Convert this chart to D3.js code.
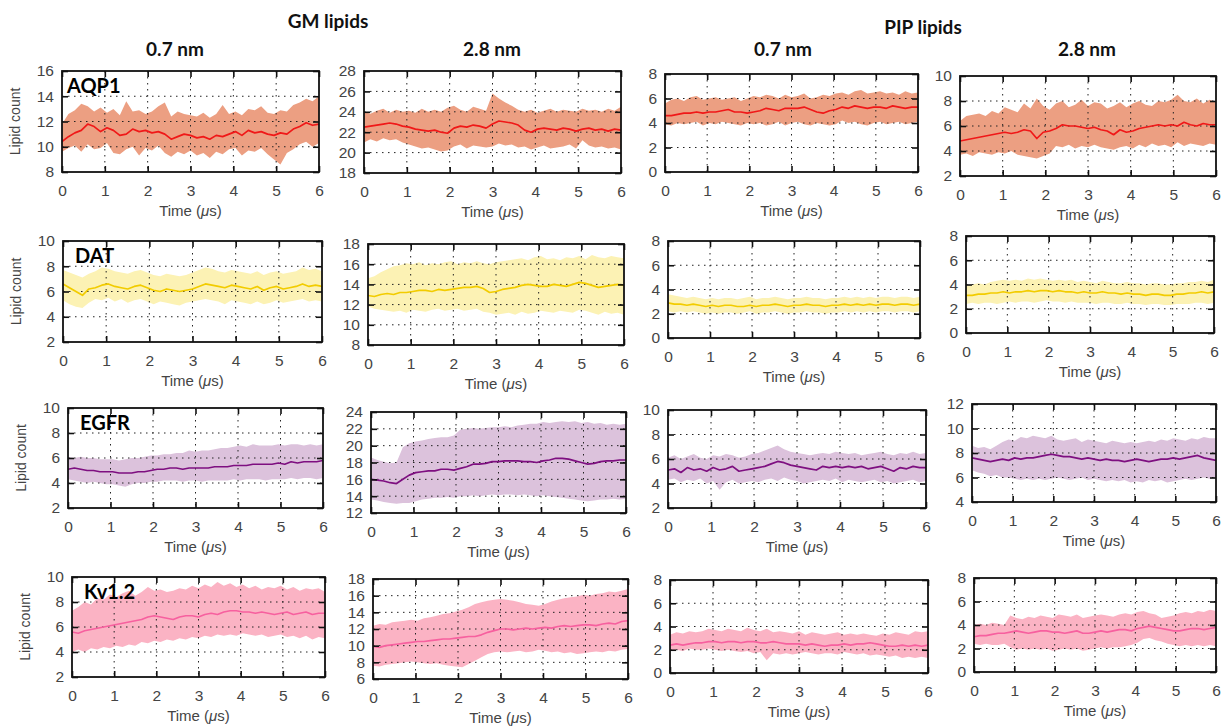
<!DOCTYPE html>
<html>
<head>
<meta charset="utf-8">
<script src="https://cdn.jsdelivr.net/npm/d3@7"></script>
<style>
  body { margin: 0; background: #fff; }
  svg { display: block; font-family: "Liberation Sans", Arial, sans-serif; }
</style>
</head>
<body>
<svg id="chart" width="1227" height="727"></svg>
<script>
// time points (µs)
const time = [0,0.15,0.3,0.45,0.6,0.75,0.9,1.05,1.2,1.35,1.5,1.65,1.8,1.95,2.1,2.25,2.4,2.55,2.7,2.85,3.0,
  3.15,3.3,3.45,3.6,3.75,3.9,4.05,4.2,4.35,4.5,4.65,4.8,4.95,5.1,5.25,5.4,5.55,5.7,5.85,6.0];

const proteins = ['AQP1', 'DAT', 'EGFR', 'Kv1.2'];
const colTitles = ['0.7 nm', '2.8 nm', '0.7 nm', '2.8 nm'];
const groupTitles = ['GM lipids', 'PIP lipids'];
const xTicks = [0, 1, 2, 3, 4, 5, 6];

// y ranges per row (protein) and column (lipid / cutoff)
const yRanges = [
  [[8, 16], [18, 28], [0, 8], [2, 10]],
  [[2, 10], [8, 18], [0, 8], [0, 8]],
  [[2, 10], [12, 24], [2, 10], [4, 12]],
  [[2, 10], [6, 18], [0, 8], [0, 8]]
];

// ---- AQP1 ----
const aqp1Gm07Mean = [10.4,10.8,11.1,11.3,11.8,11.6,11.2,11.5,11.3,10.9,11.0,11.4,11.2,11.3,11.1,11.2,11.0,10.6,10.8,11.0,10.9,10.7,10.8,10.6,10.9,10.8,11.0,11.2,10.9,11.3,11.1,11.2,11.0,10.9,11.1,11.0,11.4,11.6,11.9,11.7,11.8];
const aqp1Gm07Lo = [9.6,9.9,10.1,9.6,10.2,9.8,9.9,10.3,9.5,9.4,9.8,10.0,9.3,9.9,9.7,10.1,9.5,9.2,9.6,9.4,9.7,9.3,9.5,9.1,9.6,9.4,9.8,9.9,9.3,9.7,9.6,9.9,9.4,9.0,8.6,9.5,9.8,10.2,10.4,10.0,10.3];
const aqp1Gm07Hi = [11.8,12.6,12.9,13.4,13.2,12.8,13.1,12.7,13.0,12.5,13.6,12.8,12.9,12.6,12.8,13.2,13.5,12.4,12.8,12.6,12.5,12.4,12.7,12.3,12.6,13.3,12.6,12.8,12.5,13.0,12.9,13.2,12.7,12.6,12.9,12.8,13.3,13.5,13.8,13.6,14.0];

const aqp1Gm28Mean = [22.5,22.6,22.7,22.8,22.9,22.8,22.6,22.5,22.3,22.2,22.1,22.2,22.0,21.9,22.4,22.6,22.5,22.7,22.6,22.4,22.8,23.1,23.0,22.9,22.7,22.2,22.0,22.3,22.4,22.3,22.2,22.4,22.3,22.1,22.3,22.4,22.2,22.3,22.1,22.3,22.2];
const aqp1Gm28Lo = [21.0,21.3,21.1,21.4,21.2,21.3,21.0,20.8,20.6,20.4,20.5,20.3,20.1,20.2,20.6,20.8,20.4,20.7,20.6,20.5,20.6,20.9,20.7,20.8,20.5,20.6,20.3,20.5,20.7,20.4,20.5,20.6,20.8,20.4,21.2,20.7,20.5,20.6,20.4,20.5,20.3];
const aqp1Gm28Hi = [24.0,23.8,24.1,24.3,23.9,24.2,24.0,24.1,23.9,24.3,24.0,24.2,24.0,24.4,24.6,24.2,24.0,24.5,24.3,24.1,25.8,25.3,24.9,24.6,24.2,24.0,24.2,23.9,24.1,24.3,24.0,24.2,24.1,24.0,24.3,24.1,24.2,24.0,24.3,24.1,24.5];

const aqp1Pip07Mean = [4.6,4.6,4.7,4.8,4.8,4.9,4.8,4.9,4.9,5.0,5.1,4.9,4.9,4.8,4.9,5.0,5.2,5.1,5.0,5.2,5.2,5.2,5.3,5.1,4.9,4.8,5.0,5.1,5.3,5.2,5.4,5.3,5.2,5.3,5.3,5.2,5.4,5.3,5.2,5.3,5.3];
const aqp1Pip07Lo = [3.9,3.8,4.0,3.9,4.0,4.1,3.8,4.0,3.9,4.1,4.0,3.9,3.8,4.0,3.9,4.0,3.8,3.9,4.1,3.8,4.0,4.1,3.9,3.8,4.0,3.9,3.8,3.9,4.2,4.0,4.1,3.9,3.8,4.0,4.1,3.9,4.0,4.1,3.9,4.0,4.1];
const aqp1Pip07Hi = [5.6,5.9,6.0,5.8,6.1,6.2,5.9,6.0,6.1,5.9,6.0,6.1,5.8,6.0,6.2,6.1,6.3,6.2,6.0,6.3,6.1,6.2,6.4,6.0,6.1,6.3,6.2,6.4,6.5,6.3,6.6,6.7,6.4,6.5,6.6,6.4,6.5,6.3,6.6,6.4,6.5];

const aqp1Pip28Mean = [4.8,4.9,5.0,5.1,5.2,5.3,5.4,5.5,5.4,5.5,5.7,5.6,5.0,5.5,5.6,5.8,6.1,6.0,6.0,5.9,5.8,5.9,5.7,5.6,5.3,5.7,5.5,5.6,5.8,5.9,6.0,6.1,6.0,6.1,6.0,6.3,6.1,6.0,6.2,6.1,6.1];
const aqp1Pip28Lo = [3.7,3.8,3.6,3.9,3.8,3.7,3.9,3.8,4.0,3.7,3.6,3.5,3.4,3.6,3.8,4.4,4.3,4.5,4.2,4.4,4.3,4.5,4.3,4.2,4.1,4.3,4.4,4.2,4.5,4.3,4.6,4.4,4.5,4.3,4.7,4.4,4.6,4.5,4.4,4.6,4.5];
const aqp1Pip28Hi = [6.4,6.8,6.9,7.0,6.8,7.2,7.0,7.5,7.3,7.1,7.8,7.4,8.2,7.6,7.3,7.8,8.0,7.5,7.7,8.1,7.6,7.9,7.8,7.4,7.6,7.9,7.5,7.8,8.0,7.7,7.6,8.0,7.9,8.1,8.5,8.0,7.9,8.2,7.8,8.1,7.9];

// ---- DAT ----
const datGm07Mean = [6.6,6.3,6.0,5.7,6.2,6.3,6.5,6.6,6.4,6.3,6.2,6.4,6.5,6.3,6.1,6.0,6.2,6.1,6.0,6.1,6.2,6.4,6.6,6.5,6.4,6.3,6.5,6.4,6.3,6.2,6.4,6.1,6.3,6.4,6.2,6.3,6.4,6.6,6.4,6.5,6.4];
const datGm07Lo = [5.3,5.0,4.8,4.7,5.1,5.4,5.3,5.5,5.2,5.4,5.1,5.3,5.4,5.2,5.0,5.2,5.1,5.0,4.9,5.1,5.2,5.3,5.4,5.3,5.2,5.0,5.3,5.2,5.1,5.0,5.2,5.0,5.1,5.3,5.1,5.2,5.3,5.4,5.2,5.3,5.2];
const datGm07Hi = [7.7,7.5,7.3,7.1,7.4,7.6,7.9,7.8,7.6,7.5,7.4,7.6,7.7,7.5,7.3,7.2,7.4,7.3,7.2,7.3,7.5,7.7,7.9,7.8,7.6,7.5,7.7,7.6,7.5,7.4,7.6,7.3,7.5,7.6,7.4,7.5,7.6,7.9,7.7,7.8,7.6];

const datGm28Mean = [12.9,12.8,13.0,13.1,13.0,13.2,13.2,13.3,13.4,13.4,13.3,13.5,13.4,13.5,13.6,13.7,13.7,13.8,13.6,13.2,13.3,13.5,13.6,13.7,13.9,14.0,13.9,13.8,13.8,14.0,13.9,13.8,14.0,14.2,14.1,13.9,13.7,13.8,13.9,14.0,13.9];
const datGm28Lo = [11.8,11.6,11.5,11.4,11.3,11.4,11.2,11.5,11.4,11.3,11.5,11.6,11.4,11.5,11.6,11.4,11.5,11.6,11.3,11.2,11.0,11.1,11.2,11.0,11.3,11.1,11.2,11.4,11.3,11.2,11.4,11.3,11.2,11.5,11.4,11.2,11.0,11.3,11.1,11.2,11.0];
const datGm28Hi = [14.6,14.8,15.2,15.5,15.8,15.9,16.1,16.0,16.2,15.9,16.1,16.0,16.2,16.3,16.0,16.2,16.1,16.3,16.1,16.0,16.2,16.3,16.4,16.5,16.6,16.4,16.7,16.8,16.5,16.6,16.4,16.7,16.6,16.8,16.5,16.9,16.7,16.6,16.8,16.7,16.6];

const datPip07Mean = [2.9,2.8,2.8,2.7,2.8,2.7,2.6,2.7,2.6,2.7,2.7,2.6,2.6,2.7,2.6,2.7,2.7,2.8,2.7,2.6,2.7,2.7,2.8,2.7,2.7,2.6,2.7,2.7,2.8,2.7,2.8,2.7,2.8,2.7,2.8,2.8,2.7,2.8,2.8,2.7,2.8];
const datPip07Lo = [2.2,2.1,2.2,2.1,2.2,2.1,2.0,2.1,2.0,2.1,2.1,2.0,2.1,2.2,2.0,2.1,2.1,2.2,2.1,2.0,2.1,2.1,2.2,2.1,2.1,2.0,2.1,2.1,2.2,2.1,2.2,2.1,2.2,2.1,2.2,2.2,2.1,2.2,2.2,2.1,2.2];
const datPip07Hi = [3.6,3.5,3.4,3.3,3.4,3.3,3.2,3.3,3.2,3.3,3.3,3.2,3.3,3.4,3.2,3.3,3.3,3.4,3.3,3.2,3.3,3.3,3.4,3.3,3.3,3.2,3.3,3.3,3.4,3.3,3.4,3.3,3.4,3.3,3.4,3.4,3.3,3.4,3.4,3.3,3.4];

const datPip28Mean = [3.1,3.1,3.2,3.2,3.3,3.3,3.4,3.3,3.4,3.4,3.5,3.4,3.5,3.5,3.4,3.5,3.4,3.4,3.3,3.4,3.3,3.3,3.4,3.3,3.3,3.2,3.3,3.2,3.2,3.1,3.2,3.2,3.1,3.1,3.2,3.2,3.3,3.3,3.4,3.3,3.4];
const datPip28Lo = [2.4,2.5,2.4,2.5,2.5,2.4,2.5,2.6,2.5,2.6,2.6,2.5,2.6,2.7,2.6,2.6,2.5,2.6,2.5,2.5,2.5,2.4,2.5,2.5,2.4,2.4,2.5,2.4,2.4,2.3,2.4,2.4,2.3,2.3,2.4,2.4,2.4,2.5,2.5,2.4,2.5];
const datPip28Hi = [3.9,4.0,4.1,4.0,4.2,4.3,4.4,4.3,4.4,4.3,4.5,4.4,4.5,4.4,4.3,4.4,4.3,4.4,4.2,4.3,4.2,4.1,4.3,4.2,4.1,4.1,4.2,4.1,4.1,4.0,4.1,4.1,4.0,4.0,4.1,4.1,4.2,4.2,4.3,4.2,4.4];

// ---- EGFR ----
const egfrGm07Mean = [5.1,5.2,5.1,5.0,5.0,4.9,4.9,4.9,4.8,4.8,4.8,4.9,4.9,5.0,5.1,5.1,5.2,5.2,5.1,5.2,5.2,5.2,5.2,5.3,5.3,5.3,5.4,5.4,5.4,5.5,5.5,5.5,5.5,5.6,5.5,5.7,5.6,5.7,5.7,5.7,5.8];
const egfrGm07Lo = [4.3,4.2,4.1,4.0,4.1,4.0,3.9,3.9,3.8,3.7,3.9,4.0,4.0,4.1,4.1,4.2,4.2,4.2,4.1,4.2,4.2,4.1,4.2,4.2,4.2,4.2,4.3,4.2,4.3,4.3,4.3,4.2,4.3,4.3,4.3,4.4,4.3,4.4,4.4,4.3,4.4];
const egfrGm07Hi = [6.1,6.0,6.1,6.0,6.0,5.9,5.9,5.9,5.8,5.9,6.0,6.0,6.1,6.2,6.2,6.3,6.3,6.4,6.4,6.6,6.5,6.6,6.6,6.7,6.8,6.8,6.9,7.0,6.9,7.1,7.0,7.0,7.0,7.1,7.0,7.1,7.1,7.0,7.1,7.0,7.1];

const egfrGm28Mean = [16.0,15.9,15.8,15.6,15.5,16.0,16.5,16.8,16.9,17.0,17.0,17.2,17.2,17.1,17.3,17.5,17.8,17.8,17.9,18.1,18.1,18.2,18.2,18.2,18.1,18.1,18.0,18.2,18.3,18.5,18.5,18.4,18.2,18.0,17.8,17.9,18.1,18.2,18.2,18.3,18.3];
const egfrGm28Lo = [13.6,13.5,13.3,13.2,13.1,13.2,13.2,13.4,13.6,13.7,13.8,13.8,13.9,13.8,14.0,14.0,14.1,14.0,14.1,14.2,14.1,14.2,14.2,14.1,14.2,14.1,14.0,14.1,14.0,13.9,13.8,13.7,13.6,13.5,13.4,13.5,13.6,13.6,13.7,13.6,13.7];
const egfrGm28Hi = [18.6,18.3,18.1,17.9,18.0,19.8,20.3,20.5,20.6,20.8,20.9,21.0,21.0,21.2,21.9,22.0,22.1,22.0,22.1,22.2,22.2,22.3,22.2,22.4,22.5,22.6,22.6,22.8,22.7,22.8,22.9,22.8,22.9,22.7,22.8,22.6,22.7,22.5,22.6,22.5,22.6];

const egfrPip07Mean = [5.1,5.2,4.9,5.3,5.1,5.2,5.0,5.3,5.1,5.2,5.4,5.0,5.1,5.2,5.3,5.4,5.6,5.8,5.7,5.5,5.4,5.3,5.2,5.1,5.4,5.3,5.4,5.3,5.4,5.3,5.4,5.2,5.3,5.4,5.2,5.0,5.3,5.2,5.4,5.3,5.3];
const egfrPip07Lo = [4.3,4.4,4.1,4.3,4.2,4.4,4.0,4.2,3.5,4.1,4.3,4.0,4.1,4.2,4.1,4.3,4.4,4.2,4.5,4.3,4.2,4.0,4.1,4.2,4.3,4.2,4.4,4.1,4.3,4.2,4.1,4.2,4.3,4.1,4.2,4.0,4.1,4.2,4.3,4.1,4.2];
const egfrPip07Hi = [6.1,6.3,6.0,6.2,6.4,6.1,6.0,6.3,6.2,6.4,6.3,6.1,6.2,6.4,6.5,6.7,6.9,7.1,6.8,6.6,6.5,6.4,6.3,6.4,6.5,6.4,6.6,6.5,6.4,6.5,6.3,6.4,6.5,6.6,6.4,6.3,6.5,6.4,6.6,6.4,6.5];

const egfrPip28Mean = [7.6,7.5,7.4,7.3,7.4,7.5,7.4,7.6,7.5,7.6,7.6,7.7,7.8,7.9,7.8,7.7,7.7,7.6,7.5,7.6,7.5,7.4,7.5,7.4,7.4,7.3,7.4,7.5,7.4,7.3,7.4,7.5,7.5,7.6,7.5,7.6,7.7,7.8,7.6,7.5,7.4];
const egfrPip28Lo = [6.6,6.4,6.3,6.1,6.2,6.0,6.0,5.9,5.8,5.9,5.8,5.9,5.8,5.9,6.0,5.9,5.8,5.9,6.0,5.8,5.9,5.8,5.7,5.8,5.7,5.8,5.6,5.7,5.6,5.8,5.7,5.8,5.6,5.7,5.8,5.9,5.8,5.9,6.0,5.9,6.0];
const egfrPip28Hi = [8.6,8.4,8.5,8.3,8.6,8.9,9.1,9.0,9.3,9.2,9.4,9.3,9.2,9.4,9.1,9.0,9.1,9.2,8.9,9.1,9.0,8.9,8.8,9.0,8.9,8.8,8.9,8.8,8.9,9.0,8.9,9.1,9.0,9.2,9.1,9.0,9.2,9.1,9.3,9.2,9.2];

// ---- Kv1.2 ----
const kvGm07Mean = [5.6,5.5,5.7,5.8,5.9,6.0,6.1,6.2,6.3,6.4,6.5,6.6,6.8,6.9,6.8,6.7,6.6,6.8,6.9,6.9,6.8,7.0,7.1,7.0,7.2,7.3,7.3,7.2,7.2,7.1,7.2,7.1,7.0,7.1,7.2,7.0,7.1,7.2,7.0,7.1,7.1];
const kvGm07Lo = [4.0,4.2,4.0,4.3,4.2,4.4,4.3,4.5,4.4,4.6,4.5,4.8,4.7,4.9,4.8,5.0,4.9,5.1,5.0,5.2,5.1,5.3,5.2,5.4,5.3,5.4,5.3,5.5,5.4,5.3,5.4,5.2,5.3,5.4,5.2,5.3,5.1,5.3,5.0,5.2,5.1];
const kvGm07Hi = [7.3,7.6,8.0,7.8,8.3,8.2,8.6,8.4,8.7,8.9,8.5,8.8,9.2,8.9,9.0,8.8,8.9,9.1,9.0,9.3,9.1,9.4,9.2,9.6,9.3,9.5,9.2,9.4,9.1,9.3,9.0,9.2,9.1,9.3,9.0,9.2,8.9,9.1,9.0,9.1,8.8];

const kvGm28Mean = [9.9,9.8,10.0,10.1,10.2,10.3,10.4,10.5,10.5,10.6,10.7,10.8,10.8,10.9,11.0,11.1,11.1,11.3,11.6,11.8,12.0,12.0,11.9,12.0,12.1,12.0,12.1,12.2,12.1,12.3,12.4,12.3,12.4,12.5,12.5,12.4,12.6,12.7,12.6,12.9,13.0];
const kvGm28Lo = [7.6,7.5,7.7,7.8,7.9,8.0,8.1,8.0,7.9,7.8,7.9,7.7,7.6,7.5,7.4,7.8,8.2,8.6,9.0,9.2,9.3,9.2,9.3,9.4,9.2,9.3,9.5,9.4,9.2,9.3,9.1,9.2,9.0,9.1,9.2,9.3,9.2,9.4,9.3,9.5,9.6];
const kvGm28Hi = [12.4,12.6,12.5,12.8,12.9,13.0,13.1,13.0,13.3,13.4,13.6,13.8,13.9,14.1,14.3,14.6,15.0,15.2,15.4,15.5,15.6,15.5,15.4,15.2,15.0,14.9,14.8,15.0,15.3,15.5,15.7,15.8,15.9,16.1,16.0,16.2,16.3,16.5,16.4,16.6,16.8];

const kvPip07Mean = [2.4,2.5,2.4,2.5,2.6,2.6,2.7,2.7,2.6,2.7,2.7,2.6,2.7,2.7,2.6,2.6,2.7,2.6,2.5,2.5,2.5,2.4,2.5,2.4,2.3,2.4,2.4,2.5,2.4,2.5,2.5,2.6,2.5,2.4,2.3,2.3,2.4,2.3,2.4,2.3,2.4];
const kvPip07Lo = [1.9,2.0,1.9,2.1,2.0,2.0,2.1,2.0,1.9,2.0,1.9,1.8,1.9,1.7,1.8,1.1,1.7,1.6,1.7,1.6,1.7,1.8,1.7,1.6,1.7,1.7,1.6,1.8,1.7,1.6,1.7,1.5,1.6,1.5,1.4,1.5,1.3,1.4,1.3,1.4,1.3];
const kvPip07Hi = [3.3,3.5,3.4,3.6,3.5,3.6,3.8,3.7,3.6,3.8,3.7,3.6,3.9,3.7,3.6,3.8,3.5,3.6,3.5,3.4,3.6,3.3,3.5,3.4,3.3,3.4,3.5,3.3,3.4,3.3,3.4,3.3,3.2,3.4,3.3,3.5,3.4,3.3,3.6,3.5,3.6];

const kvPip28Mean = [3.0,3.1,3.1,3.2,3.3,3.3,3.4,3.5,3.4,3.3,3.4,3.5,3.5,3.4,3.4,3.3,3.4,3.5,3.3,3.3,3.4,3.5,3.4,3.5,3.6,3.6,3.5,3.7,3.8,3.9,3.8,3.7,3.6,3.5,3.5,3.6,3.7,3.7,3.6,3.7,3.8];
const kvPip28Lo = [2.4,2.3,2.4,2.3,2.3,2.4,2.1,1.9,2.0,1.9,2.0,1.9,2.0,1.8,1.9,2.0,1.9,2.0,1.8,1.9,2.0,2.1,2.0,2.1,2.1,2.2,2.3,2.5,2.8,2.9,2.7,2.6,2.4,2.3,2.2,2.3,2.2,2.3,2.2,2.3,2.2];
const kvPip28Hi = [4.0,4.1,4.0,4.2,4.1,4.0,4.8,4.6,4.5,4.7,4.6,4.8,4.7,4.6,4.9,4.8,4.7,4.9,4.6,4.7,4.8,4.9,4.8,4.7,4.9,5.0,4.9,5.1,5.2,5.0,4.9,4.6,4.7,4.8,5.0,5.1,5.0,5.2,5.1,5.3,5.2];

const series = [
  [[aqp1Gm07Mean, aqp1Gm07Lo, aqp1Gm07Hi], [aqp1Gm28Mean, aqp1Gm28Lo, aqp1Gm28Hi], [aqp1Pip07Mean, aqp1Pip07Lo, aqp1Pip07Hi], [aqp1Pip28Mean, aqp1Pip28Lo, aqp1Pip28Hi]],
  [[datGm07Mean, datGm07Lo, datGm07Hi], [datGm28Mean, datGm28Lo, datGm28Hi], [datPip07Mean, datPip07Lo, datPip07Hi], [datPip28Mean, datPip28Lo, datPip28Hi]],
  [[egfrGm07Mean, egfrGm07Lo, egfrGm07Hi], [egfrGm28Mean, egfrGm28Lo, egfrGm28Hi], [egfrPip07Mean, egfrPip07Lo, egfrPip07Hi], [egfrPip28Mean, egfrPip28Lo, egfrPip28Hi]],
  [[kvGm07Mean, kvGm07Lo, kvGm07Hi], [kvGm28Mean, kvGm28Lo, kvGm28Hi], [kvPip07Mean, kvPip07Lo, kvPip07Hi], [kvPip28Mean, kvPip28Lo, kvPip28Hi]]
];

// colours per protein
const lineColors = ['#f01818', '#f2cc00', '#7e0f80', '#f7609f'];
const bandColors = ['#ec9f82', '#fcf2b4', '#dcc2dc', '#fbb3c4'];

// plot boxes [left, right, top, bottom] for every row / column
const boxes = [
  [[62, 319, 71, 172], [364, 621, 71, 173], [665, 918, 74, 172], [960, 1216, 76, 176]],
  [[63, 322, 241, 342], [368, 624, 244, 345], [668, 920, 241, 338], [966, 1214, 236, 333]],
  [[68, 323, 408, 508], [371, 626, 412, 513], [668, 926, 410, 508], [972, 1216, 404, 502]],
  [[72, 325, 577, 677], [373, 628, 579, 679], [670, 928, 580, 673], [974, 1216, 578, 672]]
];

const svg = d3.select('#chart');
svg.append('rect').attr('width', 1227).attr('height', 727).attr('fill', '#fff');

const titleFont = 'Lato, "Open Sans", sans-serif';

// group and column titles
[[328, 28], [923, 34]].forEach(([cx, cy], i) => {
  svg.append('text').attr('x', cx).attr('y', cy).attr('text-anchor', 'middle')
    .style('font-family', titleFont).style('font-weight', 700).style('font-size', '19px')
    .attr('fill', '#111').text(groupTitles[i]);
});
[175, 492, 783, 1087].forEach((cx, i) => {
  svg.append('text').attr('x', cx).attr('y', 56).attr('text-anchor', 'middle')
    .style('font-family', titleFont).style('font-weight', 700).style('font-size', '19px')
    .attr('fill', '#111').text(colTitles[i]);
});

function drawPanel(row, col) {
  const [x0, x1, y0, y1] = boxes[row][col];
  const [mean, lo, hi] = series[row][col];
  const dom = yRanges[row][col];
  const yTicks = d3.range(dom[0], dom[1] + 0.01, 2);

  const x = d3.scaleLinear().domain([0, 6]).range([x0, x1]);
  const y = d3.scaleLinear().domain(dom).range([y1, y0]);

  const pts = time.map((t, i) => ({ t, m: mean[i], lo: lo[i], hi: hi[i] }));
  const g = svg.append('g');

  const clipId = `clip-${row}-${col}`;
  g.append('clipPath').attr('id', clipId)
    .append('rect').attr('x', x0).attr('y', y0).attr('width', x1 - x0).attr('height', y1 - y0);

  // band
  g.append('path')
    .datum(pts)
    .attr('clip-path', `url(#${clipId})`)
    .attr('fill', bandColors[row])
    .attr('d', d3.area().x(d => x(d.t)).y0(d => y(d.lo)).y1(d => y(d.hi)));

  // dotted grid
  g.selectAll('.vgrid').data(xTicks.slice(1, -1)).join('line')
    .attr('x1', d => x(d)).attr('x2', d => x(d)).attr('y1', y0).attr('y2', y1)
    .attr('stroke', '#222').attr('stroke-width', 1).attr('stroke-dasharray', '1.5,4.5');
  g.selectAll('.hgrid').data(yTicks.slice(1, -1)).join('line')
    .attr('x1', x0).attr('x2', x1).attr('y1', d => y(d)).attr('y2', d => y(d))
    .attr('stroke', '#222').attr('stroke-width', 1).attr('stroke-dasharray', '1.5,4.5');

  // mean line
  g.append('path')
    .datum(pts)
    .attr('clip-path', `url(#${clipId})`)
    .attr('fill', 'none')
    .attr('stroke', lineColors[row])
    .attr('stroke-width', 1.7)
    .attr('stroke-linejoin', 'round')
    .attr('d', d3.line().x(d => x(d.t)).y(d => y(d.m)));

  // axes with inward ticks
  const fmt = d3.format('d');
  const bottom = g.append('g').attr('transform', `translate(0,${y1})`)
    .call(d3.axisBottom(x).tickValues(xTicks).tickFormat(fmt).tickSizeInner(-6).tickSizeOuter(0).tickPadding(13));
  const top = g.append('g').attr('transform', `translate(0,${y0})`)
    .call(d3.axisTop(x).tickValues(xTicks).tickSizeInner(-6).tickSizeOuter(0).tickFormat(''));
  const left = g.append('g').attr('transform', `translate(${x0},0)`)
    .call(d3.axisLeft(y).tickValues(yTicks).tickFormat(fmt).tickSizeInner(-6).tickSizeOuter(0).tickPadding(8));
  const right = g.append('g').attr('transform', `translate(${x1},0)`)
    .call(d3.axisRight(y).tickValues(yTicks).tickSizeInner(-6).tickSizeOuter(0).tickFormat(''));
  [bottom, top, left, right].forEach(a => {
    a.select('.domain').remove();
    a.selectAll('line').attr('stroke', '#111').attr('stroke-width', 1.6);
    a.selectAll('text').attr('fill', '#444').style('font-size', '15.5px')
      .style('font-family', '"Liberation Sans", Arial, sans-serif');
  });

  // frame
  g.append('rect').attr('x', x0).attr('y', y0).attr('width', x1 - x0).attr('height', y1 - y0)
    .attr('fill', 'none').attr('stroke', '#111').attr('stroke-width', 1.8);

  // x label
  const xl = g.append('text').attr('x', (x0 + x1) / 2).attr('y', y1 + 44)
    .attr('text-anchor', 'middle').attr('fill', '#444').style('font-size', '15px');
  xl.append('tspan').text('Time (');
  xl.append('tspan').style('font-style', 'italic').text('\u03bc');
  xl.append('tspan').text('s)');

  // y label and protein name on the first column
  if (col === 0) {
    g.append('text')
      .attr('transform', `translate(${x0 - 42},${(y0 + y1) / 2}) rotate(-90)`)
      .attr('text-anchor', 'middle').attr('fill', '#444').style('font-size', '14px')
      .text('Lipid count');
    g.append('text').attr('x', row === 0 ? x0 + 5 : x0 + 12).attr('y', y0 + 22)
      .style('font-family', titleFont).style('font-weight', 700).style('font-size', '20px')
      .attr('fill', '#000').text(proteins[row]);
  }
}

for (let r = 0; r < 4; r++) {
  for (let c = 0; c < 4; c++) drawPanel(r, c);
}
</script>
</body>
</html>
